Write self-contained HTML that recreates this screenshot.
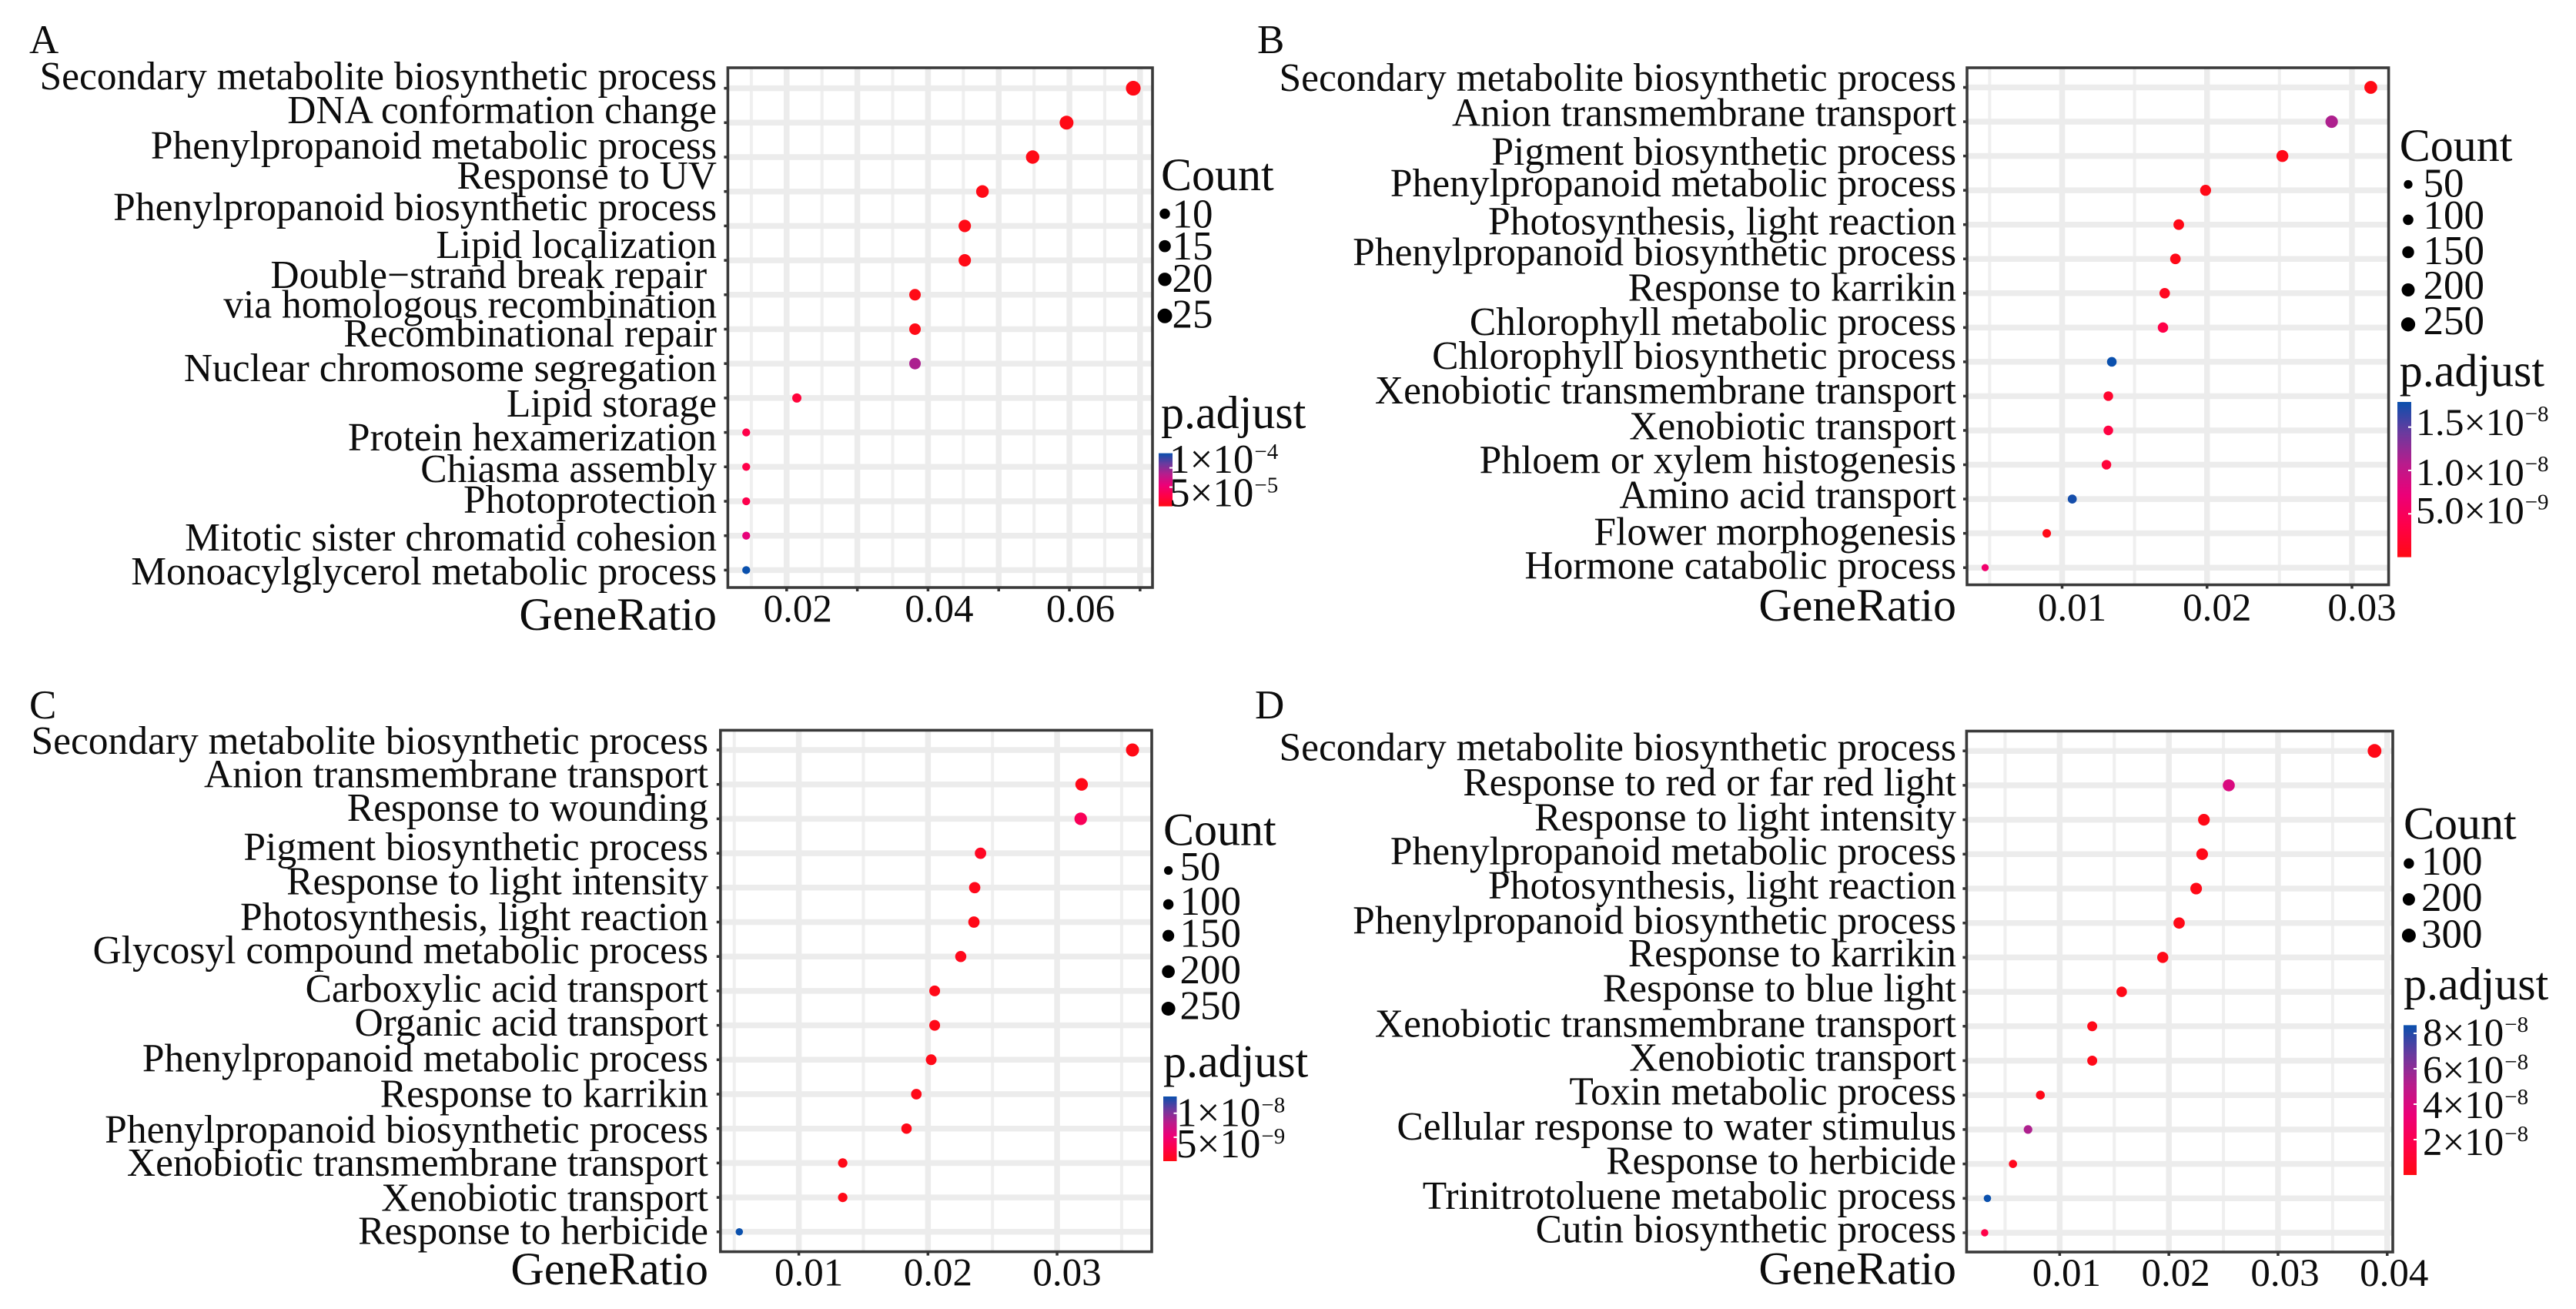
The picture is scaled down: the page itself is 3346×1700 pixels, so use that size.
<!DOCTYPE html>
<html lang="en">
<head>
<meta charset="utf-8">
<title>GO enrichment dot plots</title>
<style>
html,body{margin:0;padding:0;background:#fff;}
body{width:3346px;height:1700px;overflow:hidden;}
svg{display:block;}
text{font-family:"Liberation Serif","Times New Roman",serif;fill:#0c0c0c;white-space:pre;}
</style>
</head>
<body>
<svg id="figure" xmlns="http://www.w3.org/2000/svg" width="3346" height="1700" viewBox="0 0 3346 1700">
  <rect x="0" y="0" width="3346" height="1700" fill="#ffffff"/>
  <text x="38" y="69" font-size="53">A</text>
  <text x="1633" y="69" font-size="53">B</text>
  <text x="38" y="933" font-size="53">C</text>
  <text x="1630" y="933" font-size="53">D</text>
</svg>
<script>
/* ---------- Panel A data ---------- */
var categoriesA = ["Secondary metabolite biosynthetic process","DNA conformation change","Phenylpropanoid metabolic process","Response to UV","Phenylpropanoid biosynthetic process","Lipid localization","Double\u2212strand break repair \nvia homologous recombination","Recombinational repair","Nuclear chromosome segregation","Lipid storage","Protein hexamerization","Chiasma assembly","Photoprotection","Mitotic sister chromatid cohesion","Monoacylglycerol metabolic process"];
var ratiosA = [0.06904,0.0596,0.0548,0.0477,0.0452,0.0452,0.03816,0.03816,0.03816,0.02144,0.01428,0.01428,0.01428,0.01428,0.01428];
var countsA = [29,25,23,20,19,19,16,16,16,9,6,6,6,6,6];
var padjA = [1e-6,1e-6,1e-6,1e-6,1e-6,1e-6,1e-6,1e-6,8.7e-5,2e-5,2.8e-5,2.8e-5,3e-5,5.8e-5,1.38e-4];
var xTicksA = [0.02,0.03,0.04,0.05,0.06,0.07];
var xMinorA = [0.015,0.025,0.035,0.045,0.055,0.065];
var xTickLabelsA = [[0.02,"0.02"],[0.04,"0.04"],[0.06,"0.06"]];
var sizeLegendA = [10,15,20,25];
var padjTicksA = [[1e-4,"1\u00d710","\u22124"],[5e-5,"5\u00d710","\u22125"]];

/* ---------- Panel B data ---------- */
var categoriesB = ["Secondary metabolite biosynthetic process","Anion transmembrane transport","Pigment biosynthetic process","Phenylpropanoid metabolic process","Photosynthesis, light reaction","Phenylpropanoid biosynthetic process","Response to karrikin","Chlorophyll metabolic process","Chlorophyll biosynthetic process","Xenobiotic transmembrane transport","Xenobiotic transport","Phloem or xylem histogenesis","Amino acid transport","Flower morphogenesis","Hormone catabolic process"];
var ratiosB = [0.0313,0.0286,0.0252,0.0199,0.01805,0.01782,0.01708,0.01696,0.01343,0.01319,0.01319,0.01306,0.0107,0.00894,0.00469];
var countsB = [228,209,184,145,132,130,125,124,98,96,96,95,78,65,34];
var padjB = [1e-10,1.12e-8,3e-10,2e-10,2e-10,3e-10,8e-10,3.6e-9,1.79e-8,1.8e-9,3.2e-9,2.5e-9,1.75e-8,2e-10,6.3e-9];
var xTicksB = [0.01,0.02,0.03];
var xMinorB = [0.005,0.015,0.025];
var xTickLabelsB = [[0.01,"0.01"],[0.02,"0.02"],[0.03,"0.03"]];
var sizeLegendB = [50,100,150,200,250];
var padjTicksB = [[1.5e-8,"1.5\u00d710","\u22128"],[1e-8,"1.0\u00d710","\u22128"],[5e-9,"5.0\u00d710","\u22129"]];

/* ---------- Panel C data ---------- */
var categoriesC = ["Secondary metabolite biosynthetic process","Anion transmembrane transport","Response to wounding","Pigment biosynthetic process","Response to light intensity","Photosynthesis, light reaction","Glycosyl compound metabolic process","Carboxylic acid transport","Organic acid transport","Phenylpropanoid metabolic process","Response to karrikin","Phenylpropanoid biosynthetic process","Xenobiotic transmembrane transport","Xenobiotic transport","Response to herbicide"];
var ratiosC = [0.03584,0.0319,0.03183,0.02407,0.02362,0.02356,0.02254,0.02052,0.02052,0.02025,0.0191,0.01834,0.0134,0.0134,0.00539];
var countsC = [250,223,222,168,165,165,158,144,144,142,134,128,94,94,38];
var padjC = [1e-10,2e-10,3.6e-9,8e-10,4e-10,2e-10,4e-10,2e-10,2e-10,2e-10,2e-10,2e-10,2e-10,2e-10,1.35e-8];
var xTicksC = [0.01,0.02,0.03];
var xMinorC = [0.005,0.015,0.025,0.035];
var xTickLabelsC = [[0.01,"0.01"],[0.02,"0.02"],[0.03,"0.03"]];
var sizeLegendC = [50,100,150,200,250];
var padjTicksC = [[1e-8,"1\u00d710","\u22128"],[5e-9,"5\u00d710","\u22129"]];

/* ---------- Panel D data ---------- */
var categoriesD = ["Secondary metabolite biosynthetic process","Response to red or far red light","Response to light intensity","Phenylpropanoid metabolic process","Photosynthesis, light reaction","Phenylpropanoid biosynthetic process","Response to karrikin","Response to blue light","Xenobiotic transmembrane transport","Xenobiotic transport","Toxin metabolic process","Cellular response to water stimulus","Response to herbicide","Trinitrotoluene metabolic process","Cutin biosynthetic process"];
var ratiosD = [0.03884,0.02549,0.02321,0.02305,0.0225,0.02094,0.01944,0.01568,0.01298,0.01298,0.00823,0.0071,0.00572,0.00338,0.00313];
var countsD = [350,229,209,207,203,188,175,141,117,117,74,64,51,30,28];
var padjD = [1e-9,4e-8,1e-9,1e-9,1e-9,1e-9,1e-9,1e-9,1.5e-9,1.5e-9,1.5e-9,5.3e-8,3e-9,8.46e-8,1.7e-8];
var xTicksD = [0.01,0.02,0.03,0.04];
var xMinorD = [0.005,0.015,0.025,0.035];
var xTickLabelsD = [[0.01,"0.01"],[0.02,"0.02"],[0.03,"0.03"],[0.04,"0.04"]];
var sizeLegendD = [100,200,300];
var padjTicksD = [[8e-8,"8\u00d710","\u22128"],[6e-8,"6\u00d710","\u22128"],[4e-8,"4\u00d710","\u22128"],[2e-8,"2\u00d710","\u22128"]];

/* ---------- Layout (not data) ---------- */
var panels = [
 {id:"a",cats:categoriesA,ratios:ratiosA,counts:countsA,padj:padjA,ticks:xTicksA,minor:xMinorA,tickLabels:xTickLabelsA,sizeVals:sizeLegendA,padjTicks:padjTicksA,
  domain:[0.01168,0.07176],padjMax:1.38e-4,frame:[945.4,88,1497,763],row0:114.6,rowGap:44.7,labelRight:931,labelOffset:14.5,
  sizeA:3.0,sizeB:3.0,tickBase:807.5,geneBase:818,
  lineBase:[116,160,206,245,286,335,374,412.5,450,495,541,585,626,666,715,759],
  countX:1508,countBase:247,itemX:1522.5,dotX:1513,itemBase:[295.5,337,379,425.5],dotY:[277.6,319.7,362.8,410.3],
  padjBase:556,bar:[1505,588.6,18,69],barTextX:1519,barFont:53,barTextBase:[613.8,657.6]},
 {id:"b",cats:categoriesB,ratios:ratiosB,counts:countsB,padj:padjB,ticks:xTicksB,minor:xMinorB,tickLabels:xTickLabelsB,sizeVals:sizeLegendB,padjTicks:padjTicksB,
  domain:[0.00344,0.03253],padjMax:1.79e-8,frame:[2555,88,3102.6,759.5],row0:113.5,rowGap:44.55,labelRight:2541,labelOffset:13,
  sizeA:0.8,sizeB:4.63,tickBase:806,geneBase:806,
  lineBase:[118,163.5,214,255,304.5,344.5,390.5,435,479,524,570.5,614.5,660,707.5,751.5],
  countX:3116.7,countBase:209,itemX:3147.5,dotX:3128,itemBase:[255.6,297,343,388,434],dotY:[239.5,285.4,327.5,376.5,421.3],
  padjBase:501.7,bar:[3114,522,18,201.6],barTextX:3138,barFont:50,barTextBase:[564.8,630,679.6]},
 {id:"c",cats:categoriesC,ratios:ratiosC,counts:countsC,padj:padjC,ticks:xTicksC,minor:xMinorC,tickLabels:xTickLabelsC,sizeVals:sizeLegendC,padjTicks:padjTicksC,
  domain:[0.00393,0.03733],padjMax:1.35e-8,frame:[935.8,948.4,1496,1625.6],row0:974,rowGap:44.7,labelRight:920,labelOffset:13,
  sizeA:0.77,sizeB:4.8,tickBase:1669.6,geneBase:1668,
  lineBase:[979,1022.3,1066.2,1117,1161.6,1208.2,1251,1301,1344.8,1391.4,1437.5,1484,1527,1572.5,1615.3],
  countX:1511,countBase:1097.3,itemX:1532.5,dotX:1517.6,itemBase:[1142.8,1187.8,1229.6,1276.8,1323.4],dotY:[1130.5,1174.5,1215.2,1261.8,1310],
  padjBase:1398.4,bar:[1511,1424,17.5,84],barTextX:1528,barFont:53,barTextBase:[1462.7,1502.8]},
 {id:"d",cats:categoriesD,ratios:ratiosD,counts:countsD,padj:padjD,ticks:xTicksD,minor:xMinorD,tickLabels:xTickLabelsD,sizeVals:sizeLegendD,padjTicks:padjTicksD,
  domain:[0.00147,0.04051],padjMax:8.46e-8,frame:[2554.4,949.5,3108,1626],row0:975.2,rowGap:44.7,labelRight:2541,labelOffset:9,
  sizeA:0.623,sizeB:6.2,tickBase:1670,geneBase:1667.3,
  lineBase:[987.5,1033,1078.6,1122.5,1167,1212.5,1254.8,1300.3,1346.4,1390.3,1434.3,1479.8,1524.3,1569.8,1613.7],
  countX:3122,countBase:1089.3,itemX:3145,dotX:3128.9,itemBase:[1135.9,1183,1230.7],dotY:[1121.4,1168,1215],
  padjBase:1298.2,bar:[3122,1331.4,17,194.6],barTextX:3147,barFont:51,barTextBase:[1358.2,1406.4,1452,1500.2]}
];

var SVGNS = "http://www.w3.org/2000/svg";
var fig = document.getElementById("figure");
var colorStops = [[0,"#ff0a14"],[0.2,"#ff0048"],[0.4,"#ec0078"],[0.6,"#b81c8c"],[0.8,"#6b3a9e"],[1,"#0a50ad"]];

function mk(parent, tag, props, txt){
  var el = document.createElementNS(SVGNS, tag);
  for (var k in props) el.setAttribute(k, props[k]);
  if (txt !== undefined) el.textContent = txt;
  parent.appendChild(el);
  return el;
}
function hexToRgb(h){ return [parseInt(h.substr(1,2),16),parseInt(h.substr(3,2),16),parseInt(h.substr(5,2),16)]; }
function colorAt(t){
  t = Math.max(0, Math.min(1, t));
  for (var i = 1; i < colorStops.length; i++){
    if (t <= colorStops[i][0]){
      var a = colorStops[i-1], b = colorStops[i], f = (t-a[0])/(b[0]-a[0]);
      var ca = hexToRgb(a[1]), cb = hexToRgb(b[1]);
      return "rgb("+Math.round(ca[0]+(cb[0]-ca[0])*f)+","+Math.round(ca[1]+(cb[1]-ca[1])*f)+","+Math.round(ca[2]+(cb[2]-ca[2])*f)+")";
    }
  }
  return colorStops[colorStops.length-1][1];
}

var defs = mk(fig, "defs", {});
var grad = mk(defs, "linearGradient", {id:"padj-gradient",x1:"0",y1:"1",x2:"0",y2:"0"});
colorStops.forEach(function(s){ mk(grad, "stop", {offset:s[0], "stop-color":s[1]}); });

panels.forEach(function(p){
  var L = p.frame[0], T = p.frame[1], R = p.frame[2], B = p.frame[3];
  var xScale = function(v){ return L + (v - p.domain[0]) / (p.domain[1] - p.domain[0]) * (R - L); };
  var yScale = function(i){ return p.row0 + i * p.rowGap; };
  var dia = function(c){ return p.sizeA * Math.sqrt(c) + p.sizeB; };
  var g = mk(fig, "g", {});
  
  

  /* grid */
  p.minor.forEach(function(v){
    var gl = mk(g, "line", {x1:xScale(v),x2:xScale(v),y1:T,y2:B,stroke:"#efefef","stroke-width":4});
    
    
  });
  p.ticks.forEach(function(v){
    var gl = mk(g, "line", {x1:xScale(v),x2:xScale(v),y1:T,y2:B,stroke:"#ececec","stroke-width":7.5});
    
    
  });
  p.cats.forEach(function(c, i){
    var gl = mk(g, "line", {x1:L,x2:R,y1:yScale(i),y2:yScale(i),stroke:"#ececec","stroke-width":7.5});
    
    
    var tk = mk(g, "line", {x1:L-5,x2:L,y1:yScale(i),y2:yScale(i),stroke:"#333","stroke-width":3.5});
    
    
  });

  /* dots */
  p.ratios.forEach(function(v, i){
    var dot = mk(g, "circle", {cx:xScale(v),cy:yScale(i),r:dia(p.counts[i])/2,fill:colorAt(p.padj[i]/p.padjMax)});
    
    
  });

  /* frame and x ticks */
  var fr = mk(g, "rect", {x:L,y:T,width:R-L,height:B-T,fill:"none",stroke:"#3a3a3a","stroke-width":3.6});
  
  
  p.ticks.forEach(function(v){
    var tk = mk(g, "line", {x1:xScale(v),x2:xScale(v),y1:B,y2:B+5,stroke:"#333","stroke-width":3.5});
    
    
  });

  /* category labels */
  var lineIdx = 0;
  p.cats.forEach(function(c){
    c.split("\n").forEach(function(line){
      var t = mk(g, "text", {x:p.labelRight,y:p.lineBase[lineIdx],"text-anchor":"end","font-size":51.5}, line);
      
      
      lineIdx++;
    });
  });

  /* x tick labels and axis title */
  p.tickLabels.forEach(function(tl){
    var t = mk(g, "text", {x:xScale(tl[0])+p.labelOffset,y:p.tickBase,"text-anchor":"middle","font-size":51}, tl[1]);
    
    
  });
  var gt = mk(g, "text", {x:p.labelRight,y:p.geneBase,"text-anchor":"end","font-size":60}, "GeneRatio");
  
  

  /* size legend */
  var ct = mk(g, "text", {x:p.countX,y:p.countBase,"font-size":60}, "Count");
  
  
  p.sizeVals.forEach(function(v, i){
    var ld = mk(g, "circle", {cx:p.dotX,cy:p.dotY[i],r:(dia(v)+1)/2,fill:"#000"});
    
    
    var lt = mk(g, "text", {x:p.itemX,y:p.itemBase[i],"font-size":53}, String(v));
    
    
  });

  /* colour legend */
  var pt = mk(g, "text", {x:p.countX,y:p.padjBase,"font-size":60}, "p.adjust");
  
  
  var bar = mk(g, "rect", {x:p.bar[0],y:p.bar[1],width:p.bar[2],height:p.bar[3],fill:"url(#padj-gradient)"});
  
  
  p.padjTicks.forEach(function(tick, i){
    var ty = p.bar[1] + p.bar[3] * (1 - tick[0]/p.padjMax);
    var m = mk(g, "line", {x1:p.bar[0]+p.bar[2]-4,x2:p.bar[0]+p.bar[2],y1:ty,y2:ty,stroke:"#fff","stroke-width":2});
    
    
    var t = mk(g, "text", {x:p.barTextX,y:p.barTextBase[i],"font-size":p.barFont}, tick[1]);
    
    
    mk(t, "tspan", {dy:-18,"font-size":29,dx:1}, tick[2]);
  });
});
</script>
</body>
</html>
